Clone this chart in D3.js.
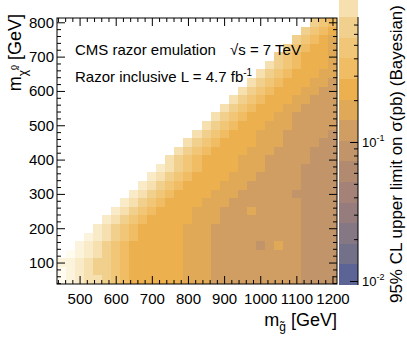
<!DOCTYPE html>
<html>
<head>
<meta charset="utf-8">
<script src="https://cdn.jsdelivr.net/npm/d3@7"></script>
<style>
body { margin: 0; background: #fff; }
text { font-family: "Liberation Sans", Arial, sans-serif; fill: #000; }
</style>
</head>
<body>
<script>
// gluino mass bins (columns) and LSP mass bins (rows), GeV
const mGluino = [450, 475, 500, 525, 550, 575, 600, 625, 650, 675, 700, 725, 750, 775, 800, 825,
    850, 875, 900, 925, 950, 975, 1000, 1025, 1050, 1075, 1100, 1125, 1150, 1175, 1200];
const mLSP = [800, 775, 750, 725, 700, 675, 650, 625, 600, 575, 550, 525, 500, 475, 450, 425,
    400, 375, 350, 325, 300, 275, 250, 225, 200, 175, 150, 125, 100, 75, 50];

// colour band of each cell (0 = bluest ... g = palest),
// rows are right aligned: the missing points sit left of the diagonal
const limitBands = [
    "cba",
    "cba9",
    "cba98",
    "cba998",
    "cba9998",
    "dcba9998",
    "dcba99988",
    "dcba999887",
    "dcba9998877",
    "dcba99988777",
    "dcba999887777",
    "dcba9998877777",
    "dcba99988877777",
    "dcba999888777776",
    "dcba9999888777766",
    "dcba99998887777666",
    "dcba999988877777666",
    "edcba999988877776666",
    "edcba9999888777776666",
    "edcba99998887777776666",
    "edcba999988877777766666",
    "edcba9999888777777776666",
    "edcba99998887778777776666",
    "edcba999998887777777776666",
    "edcba9999988877777777776666",
    "fedcba9999988877777777776666",
    "fedcba99999988877777678776666",
    "gfedcba99999988877777777776666",
    "ffedccba99999988877777777776666",
    "gfedccba99999988877777777776666",
    "gfeddcba99999988877777777776666"
];

// palette bands, bottom to top
const bandColors = ["#5b6494", "#737089", "#857783", "#967c7d", "#a48278", "#b28a70", "#c29469",
    "#d09e62", "#e0a958", "#edb04f", "#f0bd64", "#f1c777", "#f1d08d", "#f6e0b0", "#f9eac8",
    "#fcf3dc", "#fffbee"];
const zMajor = [0.01, 0.1];
const zMinor = [0.02, 0.03, 0.04, 0.05, 0.06, 0.07, 0.08, 0.09, 0.2, 0.3, 0.4, 0.5, 0.6, 0.7];

const width = 407, height = 344;
const pLeft = 57, pRight = 337, pTop = 18, pBottom = 284;

const svg = d3.select("body").append("svg")
    .attr("width", width)
    .attr("height", height)
    .style("background-color", "#fff");

const x = d3.scaleLinear().domain([437.5, 1212.5]).range([pLeft, pRight]);
const y = d3.scaleLinear().domain([37.5, 812.5]).range([pBottom, pTop]);

// colour bar: log axis, one band is ~20.6 px tall
const barX = 339, barW = 19, barBottom = 285, bandH = 20.6;
const z = d3.scaleLog().domain([0.01, 0.1]).range([281, 142]);
function bandOf(v) { return Math.floor((barBottom - z(v)) / bandH); }
function bandValue(k) { return z.invert(barBottom - (k + 0.5) * bandH); }

// cells
const cells = [];
limitBands.forEach((r, j) => {
    const row = r.padStart(mGluino.length, ".");
    for (let i = 0; i < mGluino.length; i++) {
        if (row[i] === ".") continue;
        cells.push({ mg: mGluino[i], ml: mLSP[j], limit: bandValue(parseInt(row[i], 17)) });
    }
});

svg.append("g").selectAll("rect")
    .data(cells)
    .enter().append("rect")
    .attr("x", d => x(d.mg - 12.5))
    .attr("y", d => y(d.ml + 12.5))
    .attr("width", d => x(d.mg + 12.5) - x(d.mg - 12.5))
    .attr("height", d => y(d.ml - 12.5) - y(d.ml + 12.5))
    .attr("fill", d => bandColors[bandOf(d.limit)])
    .attr("shape-rendering", "crispEdges");

// axes, ticks inside the frame
function ticks(axis, vals, size, labels) {
    return axis.tickValues(vals).tickSize(-size).tickPadding(4)
        .tickFormat(labels ? d3.format("d") : "");
}
const xMaj = [500, 600, 700, 800, 900, 1000, 1100, 1200];
const yMaj = [100, 200, 300, 400, 500, 600, 700, 800];
const xMin = d3.range(440, 1220, 20).filter(v => v % 100 !== 0);
const yMin = d3.range(40, 820, 20).filter(v => v % 100 !== 0);

function drawAxis(axisFn, scale, pos, maj, min, labels) {
    const g1 = svg.append("g").attr("transform", pos).call(ticks(axisFn(scale), maj, 8, labels));
    const g2 = svg.append("g").attr("transform", pos).call(ticks(axisFn(scale), min, 4, false));
    [g1, g2].forEach(g => {
        g.select(".domain").remove();
        g.selectAll("line").attr("stroke", "#000").attr("stroke-width", 1);
        g.selectAll("text").style("font-size", "15px").style("font-family", "Liberation Sans, Arial, sans-serif");
    });
    return g1;
}
drawAxis(d3.axisBottom, x, `translate(0,${pBottom})`, xMaj, xMin, true)
    .selectAll("text").attr("dy", "0.95em").attr("y", 6);
drawAxis(d3.axisTop, x, `translate(0,${pTop})`, xMaj, xMin, false);
drawAxis(d3.axisLeft, y, `translate(${pLeft},0)`, yMaj, yMin, true)
    .selectAll("text").attr("x", -3);
drawAxis(d3.axisRight, y, `translate(${pRight},0)`, yMaj, yMin, false);

svg.append("rect")
    .attr("x", pLeft).attr("y", pTop)
    .attr("width", pRight - pLeft).attr("height", pBottom - pTop)
    .attr("fill", "none").attr("stroke", "#000").attr("stroke-width", 1);

// colour bar
const bands = d3.range(0, 14);
svg.append("g").selectAll("rect")
    .data(bands)
    .enter().append("rect")
    .attr("x", barX)
    .attr("y", k => Math.max(0, barBottom - (k + 1) * bandH))
    .attr("width", barW)
    .attr("height", k => barBottom - k * bandH - Math.max(0, barBottom - (k + 1) * bandH))
    .attr("fill", k => bandColors[k])
    .attr("shape-rendering", "crispEdges");

const zg1 = svg.append("g").attr("transform", `translate(${barX + barW},0)`)
    .call(d3.axisRight(z).tickValues(zMajor).tickSize(-8).tickFormat(""));
const zg2 = svg.append("g").attr("transform", `translate(${barX + barW},0)`)
    .call(d3.axisRight(z).tickValues(zMinor).tickSize(-4).tickFormat(""));
[zg1, zg2].forEach(g => {
    g.select(".domain").remove();
    g.selectAll("line").attr("stroke", "#000");
});
svg.append("line")
    .attr("x1", barX + barW).attr("x2", barX + barW)
    .attr("y1", 17).attr("y2", barBottom)
    .attr("stroke", "#000");

const zlab = svg.append("g").selectAll("text")
    .data(zMajor)
    .enter().append("text")
    .attr("x", barX + barW + 4)
    .attr("y", d => z(d) + 5)
    .style("font-size", "13px");
zlab.append("tspan").text("10");
zlab.append("tspan").attr("dy", -6).style("font-size", "9px").text(d => Math.round(Math.log10(d)));

// titles
svg.append("text")
    .attr("transform", "translate(402,5) rotate(-90)")
    .attr("text-anchor", "end")
    .style("font-size", "17px")
    .text("95% CL upper limit on σ(pb) (Bayesian)");

const xt = svg.append("text")
    .attr("x", 337).attr("y", 326)
    .attr("text-anchor", "end")
    .style("font-size", "18px");
xt.append("tspan").text("m");
xt.append("tspan").attr("dy", 5).style("font-size", "12px").text("g\u0303");
xt.append("tspan").attr("dy", -5).text(" [GeV]");

const yt = svg.append("text")
    .attr("transform", "translate(21,14) rotate(-90)")
    .attr("text-anchor", "end")
    .style("font-size", "18px");
yt.append("tspan").text("m");
yt.append("tspan").attr("dy", 6).style("font-size", "12px").text("\u03c7\u0303");
yt.append("tspan").attr("dy", -10).style("font-size", "9px").text("0");
yt.append("tspan").attr("dy", 4).text(" [GeV]");

svg.append("text").attr("x", 75).attr("y", 55).style("font-size", "15px").text("CMS razor emulation");
svg.append("text").attr("x", 230).attr("y", 55).style("font-size", "15px").text("\u221as = 7 TeV");
const lum = svg.append("text").attr("x", 75).attr("y", 82).style("font-size", "15px");
lum.append("tspan").text("Razor inclusive L = 4.7 fb");
lum.append("tspan").attr("dy", -6).style("font-size", "10px").text("-1");
</script>
</body>
</html>
